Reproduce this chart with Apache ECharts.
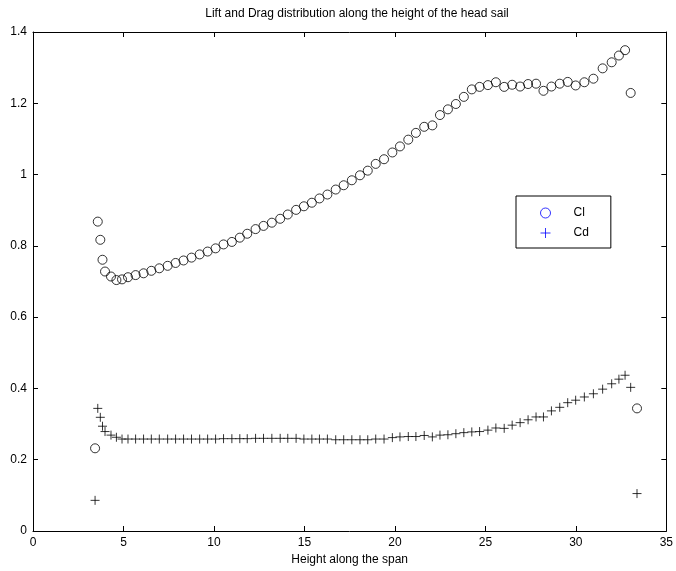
<!DOCTYPE html>
<html>
<head>
<meta charset="utf-8">
<script src="https://cdn.jsdelivr.net/npm/echarts@6/dist/echarts.min.js"></script>
<style>html,body{margin:0;padding:0;background:#fff;}#c{width:676px;height:571px;}</style>
</head>
<body>
<div id="c"></div>
<script>
const heights = [3.43, 3.58, 3.72, 3.84, 3.98, 4.31, 4.61, 4.92, 5.25, 5.67, 6.11, 6.54, 6.98, 7.44, 7.88, 8.32, 8.76, 9.21, 9.65, 10.09, 10.53, 10.99, 11.43, 11.84, 12.30, 12.74, 13.20, 13.66, 14.08, 14.54, 14.97, 15.41, 15.83, 16.27, 16.73, 17.17, 17.62, 18.07, 18.50, 18.94, 19.40, 19.86, 20.28, 20.74, 21.16, 21.62, 22.07, 22.49, 22.93, 23.37, 23.81, 24.25, 24.68, 25.14, 25.58, 26.04, 26.48, 26.92, 27.36, 27.80, 28.21, 28.65, 29.11, 29.55, 29.99, 30.47, 30.97, 31.48, 31.98, 32.38, 32.72, 33.03, 33.38];
const clValues = [0.232, 0.868, 0.817, 0.761, 0.728, 0.714, 0.704, 0.706, 0.712, 0.718, 0.723, 0.730, 0.737, 0.744, 0.752, 0.759, 0.767, 0.776, 0.784, 0.793, 0.804, 0.811, 0.823, 0.834, 0.847, 0.856, 0.865, 0.876, 0.888, 0.901, 0.911, 0.921, 0.933, 0.944, 0.958, 0.970, 0.984, 0.998, 1.011, 1.030, 1.043, 1.062, 1.079, 1.098, 1.117, 1.134, 1.138, 1.167, 1.183, 1.198, 1.218, 1.239, 1.246, 1.251, 1.259, 1.246, 1.252, 1.247, 1.254, 1.255, 1.235, 1.247, 1.255, 1.260, 1.250, 1.259, 1.269, 1.298, 1.315, 1.334, 1.349, 1.229, 0.344];
const cdValues = [0.086, 0.344, 0.319, 0.294, 0.279, 0.269, 0.263, 0.258, 0.258, 0.258, 0.258, 0.258, 0.258, 0.258, 0.258, 0.258, 0.258, 0.258, 0.258, 0.258, 0.259, 0.259, 0.259, 0.259, 0.260, 0.260, 0.260, 0.260, 0.260, 0.260, 0.258, 0.258, 0.258, 0.258, 0.256, 0.256, 0.256, 0.256, 0.256, 0.258, 0.258, 0.262, 0.264, 0.265, 0.265, 0.268, 0.264, 0.269, 0.270, 0.273, 0.276, 0.278, 0.279, 0.283, 0.289, 0.288, 0.297, 0.304, 0.312, 0.320, 0.320, 0.337, 0.347, 0.360, 0.367, 0.376, 0.385, 0.398, 0.413, 0.426, 0.437, 0.403, 0.105];
const xTicks = [0, 5, 10, 15, 20, 25, 30, 35];
const yTicks = [0, 0.2, 0.4, 0.6, 0.8, 1, 1.2, 1.4];

const FONT = 'Liberation Sans, Arial, Helvetica, sans-serif';
const PLUS = 'path://M0,5L10,5M5,0L5,10';
const clData = heights.map((h, i) => [h, clValues[i]]);
const cdData = heights.map((h, i) => [h, cdValues[i]]);

const chart = echarts.init(document.getElementById('c'), null, {renderer: 'canvas'});
const axisCommon = {
  axisLine: {show: true, onZero: false, lineStyle: {color: '#000', width: 1}},
  axisTick: {show: true, inside: true, length: 5, lineStyle: {color: '#000', width: 1}},
  splitLine: {show: false}
};
chart.setOption({
  animation: false,
  backgroundColor: '#fff',
  title: {
    text: 'Lift and Drag distribution along the height of the head sail',
    left: 352, top: 3, textAlign: 'center',
    textStyle: {fontFamily: FONT, fontSize: 12, fontWeight: 'normal', color: '#000'}
  },
  grid: {left: 33, right: 9, top: 32, bottom: 38, containLabel: false},
  legend: {
    orient: 'vertical',
    left: 516, top: 196,
    padding: [10, 22, 8, 24],
    itemWidth: 46, itemHeight: 10, itemGap: 6,
    borderColor: '#000', borderWidth: 1, borderRadius: 0,
    backgroundColor: '#fff',
    textStyle: {fontFamily: FONT, fontSize: 12, color: '#000', lineHeight: 14},
    data: [
      {name: 'Cl', icon: 'circle', itemStyle: {color: 'transparent', borderColor: '#0000ff', borderWidth: 1}},
      {name: 'Cd', icon: PLUS, itemStyle: {color: '#0000ff', borderColor: '#0000ff', borderWidth: 1}}
    ]
  },
  xAxis: [
    Object.assign({
      type: 'value', position: 'bottom', min: 0, max: 35, interval: 5,
      name: 'Height along the span', nameLocation: 'middle', nameGap: 23,
      nameTextStyle: {fontFamily: FONT, fontSize: 12, color: '#000'},
      axisLabel: {fontFamily: FONT, fontSize: 12, color: '#000', margin: 6,
        formatter: v => xTicks.includes(v) ? String(v) : ''}
    }, axisCommon),
    Object.assign({
      type: 'value', position: 'top', min: 0, max: 35, interval: 5,
      axisLabel: {show: false}
    }, axisCommon)
  ],
  yAxis: [
    Object.assign({
      type: 'value', position: 'left', min: 0, max: 1.4, interval: 0.2,
      axisLabel: {fontFamily: FONT, fontSize: 12, color: '#000', margin: 6,
        formatter: v => { const t = yTicks.find(k => Math.abs(k - v) < 1e-9); return t === undefined ? '' : String(t); }}
    }, axisCommon),
    Object.assign({
      type: 'value', position: 'right', min: 0, max: 1.4, interval: 0.2,
      axisLabel: {show: false}
    }, axisCommon)
  ],
  series: [
    {
      name: 'Cl', type: 'scatter', data: clData, xAxisIndex: 0, yAxisIndex: 0,
      symbol: 'circle', symbolSize: 9,
      itemStyle: {color: 'transparent', borderColor: '#000', borderWidth: 1},
      emphasis: {disabled: true}
    },
    {
      name: 'Cd', type: 'scatter', data: cdData, xAxisIndex: 0, yAxisIndex: 0,
      symbol: PLUS, symbolSize: 9,
      itemStyle: {color: 'none', borderColor: '#000', borderWidth: 1},
      emphasis: {disabled: true}
    }
  ]
});
</script>
</body>
</html>
